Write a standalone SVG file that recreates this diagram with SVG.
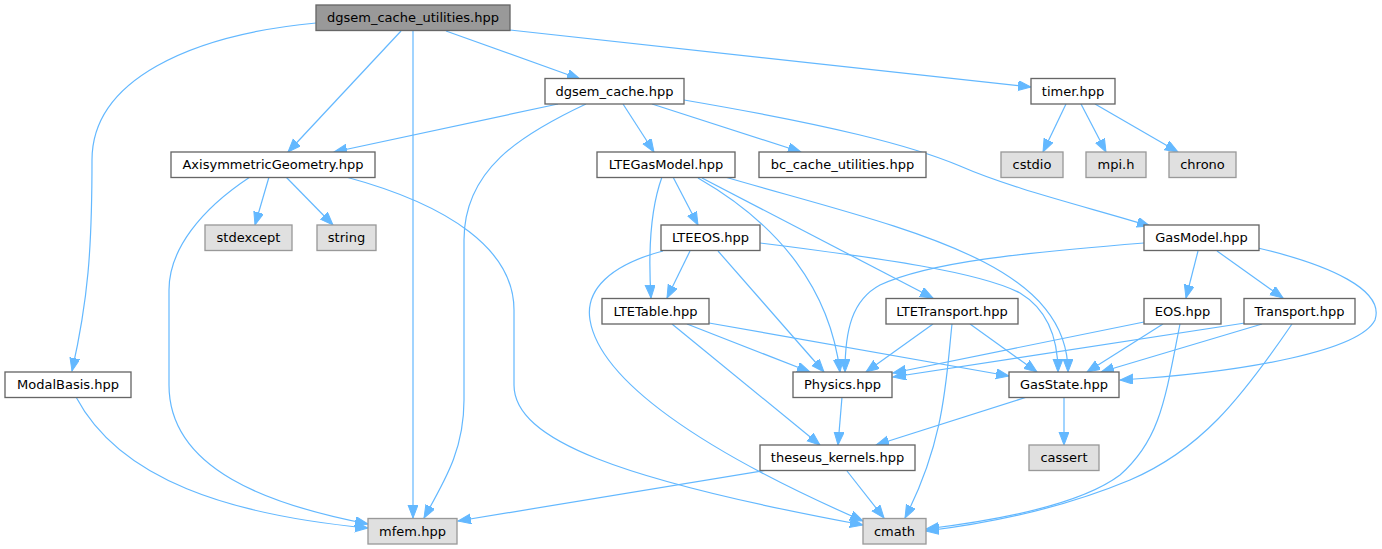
<svg xmlns="http://www.w3.org/2000/svg" width="1382" height="549" viewBox="0 0 1382 549">
<style>
.nd rect{fill:#ffffff;stroke:#666666;stroke-width:1.33}
.sys rect{fill:#e0e0e0;stroke:#999999;stroke-width:1.33}
.root rect{fill:#999999;stroke:#666666;stroke-width:1.33}
text{font-family:"DejaVu Sans","Liberation Sans",sans-serif;font-size:13px;fill:#000000;text-anchor:middle}
#edges path{fill:none;stroke:#63b8ff;stroke-width:1.2;marker-end:url(#arr)}
</style>
<defs>
<marker id="arr" markerUnits="userSpaceOnUse" markerWidth="14" markerHeight="11" refX="13" refY="5" orient="auto">
<path d="M0,0 L13,5 L0,10 z" fill="#63b8ff" stroke="#63b8ff" stroke-width="1"/>
</marker>
</defs>
<rect x="0" y="0" width="1382" height="549" fill="#ffffff"/>
<g id="edges">
<path d="M316,23 C190,35 92,80 92,160 C92,250 88,300 72,371"/>
<path d="M401,31 L288,152"/>
<path d="M413,31 L413,518"/>
<path d="M446,31 L580,79"/>
<path d="M510,30 L1031,87"/>
<path d="M558,104 L334,152"/>
<path d="M586,104 C520,135 464,170 464,240 L464,400 C464,450 445,480 424,518"/>
<path d="M623,104 L654,152"/>
<path d="M652,104 L801,152"/>
<path d="M684,100 C830,125 910,145 960,166 C1010,188 1080,205 1150,226"/>
<path d="M269,177 L255,225"/>
<path d="M286,177 L333,225"/>
<path d="M250,177 C200,210 169,250 169,290 L169,385 C169,470 270,505 368,524"/>
<path d="M346,177 C450,205 514,250 514,310 L514,385 C514,440 620,480 863,525"/>
<path d="M662,177 C650,210 648,250 651,298"/>
<path d="M673,177 L698,225"/>
<path d="M698,178 C780,225 830,290 840,372"/>
<path d="M702,178 L933,298"/>
<path d="M725,177 C900,228 1068,260 1068,372"/>
<path d="M690,251 L667,298"/>
<path d="M718,251 L824,372"/>
<path d="M760,243 C880,258 980,272 1020,293 C1045,308 1058,335 1058,372"/>
<path d="M663,251 C610,265 585,290 590,320 C600,380 700,450 863,521"/>
<path d="M687,324 L810,372"/>
<path d="M709,323 L1009,376"/>
<path d="M672,324 L820,445"/>
<path d="M933,324 L866,372"/>
<path d="M970,324 L1037,372"/>
<path d="M952,324 C946,380 945,440 905,518"/>
<path d="M1144,322 L893,373"/>
<path d="M1163,324 L1087,372"/>
<path d="M1180,324 C1165,400 1160,440 1120,475 C1080,505 1000,520 926,529"/>
<path d="M1245,323 L893,377"/>
<path d="M1262,324 L1101,372"/>
<path d="M1292,324 C1240,400 1200,450 1130,480 C1070,505 1000,522 926,531"/>
<path d="M1198,251 L1186,298"/>
<path d="M1217,251 L1283,298"/>
<path d="M1258,248 C1330,265 1385,290 1375,320 C1360,350 1250,372 1120,380"/>
<path d="M1144,243 C1020,253 930,262 880,285 C852,300 845,330 845,372"/>
<path d="M842,397 L838,445"/>
<path d="M1027,397 L876,445"/>
<path d="M1064,397 L1064,445"/>
<path d="M847,471 L884,518"/>
<path d="M768,470 L458,521"/>
<path d="M76,397 C120,480 230,515 368,528"/>
<path d="M1066,104 L1043,152"/>
<path d="M1081,104 L1106,152"/>
<path d="M1095,104 L1178,152"/>
</g>
<g id="n_root" class="root"><rect x="316" y="5" width="194" height="25.5"/><text x="413" y="22">dgsem_cache_utilities.hpp</text></g>
<g id="n_dgsem_cache" class="nd"><rect x="545" y="78.5" width="139" height="25.5"/><text x="614.5" y="95.5">dgsem_cache.hpp</text></g>
<g id="n_timer" class="nd"><rect x="1031" y="78.5" width="84" height="25.5"/><text x="1073" y="95.5">timer.hpp</text></g>
<g id="n_axisym" class="nd"><rect x="171" y="152" width="204" height="25.5"/><text x="273" y="169">AxisymmetricGeometry.hpp</text></g>
<g id="n_ltegasmodel" class="nd"><rect x="597" y="152" width="138" height="25.5"/><text x="666" y="169">LTEGasModel.hpp</text></g>
<g id="n_bc" class="nd"><rect x="759" y="152" width="167" height="25.5"/><text x="842.5" y="169">bc_cache_utilities.hpp</text></g>
<g id="n_cstdio" class="sys"><rect x="1001" y="152" width="62" height="25.5"/><text x="1032" y="169">cstdio</text></g>
<g id="n_mpi" class="sys"><rect x="1086" y="152" width="60" height="25.5"/><text x="1116" y="169">mpi.h</text></g>
<g id="n_chrono" class="sys"><rect x="1169" y="152" width="67" height="25.5"/><text x="1202.5" y="169">chrono</text></g>
<g id="n_stdexcept" class="sys"><rect x="205" y="225" width="87" height="25.5"/><text x="248.5" y="242">stdexcept</text></g>
<g id="n_string" class="sys"><rect x="317" y="225" width="59" height="25.5"/><text x="346.5" y="242">string</text></g>
<g id="n_lteeos" class="nd"><rect x="661" y="225" width="99" height="25.5"/><text x="710.5" y="242">LTEEOS.hpp</text></g>
<g id="n_gasmodel" class="nd"><rect x="1144" y="225" width="115" height="25.5"/><text x="1201.5" y="242">GasModel.hpp</text></g>
<g id="n_ltetable" class="nd"><rect x="602" y="298.5" width="107" height="25.5"/><text x="655.5" y="315.5">LTETable.hpp</text></g>
<g id="n_ltetransport" class="nd"><rect x="886" y="298.5" width="132" height="25.5"/><text x="952" y="315.5">LTETransport.hpp</text></g>
<g id="n_eos" class="nd"><rect x="1144" y="298.5" width="77" height="25.5"/><text x="1182.5" y="315.5">EOS.hpp</text></g>
<g id="n_transport" class="nd"><rect x="1244" y="298.5" width="111" height="25.5"/><text x="1299.5" y="315.5">Transport.hpp</text></g>
<g id="n_modalbasis" class="nd"><rect x="5" y="372" width="126" height="25.5"/><text x="68" y="389">ModalBasis.hpp</text></g>
<g id="n_physics" class="nd"><rect x="793" y="372" width="99" height="25.5"/><text x="842.5" y="389">Physics.hpp</text></g>
<g id="n_gasstate" class="nd"><rect x="1009" y="372" width="110" height="25.5"/><text x="1064" y="389">GasState.hpp</text></g>
<g id="n_theseus" class="nd"><rect x="760" y="445" width="155" height="25.5"/><text x="837.5" y="462">theseus_kernels.hpp</text></g>
<g id="n_cassert" class="sys"><rect x="1029" y="445" width="70" height="25.5"/><text x="1064" y="462">cassert</text></g>
<g id="n_mfem" class="sys"><rect x="368" y="518.5" width="89" height="25.5"/><text x="412.5" y="535.5">mfem.hpp</text></g>
<g id="n_cmath" class="sys"><rect x="863" y="518.5" width="63" height="25.5"/><text x="894.5" y="535.5">cmath</text></g>
</svg>
